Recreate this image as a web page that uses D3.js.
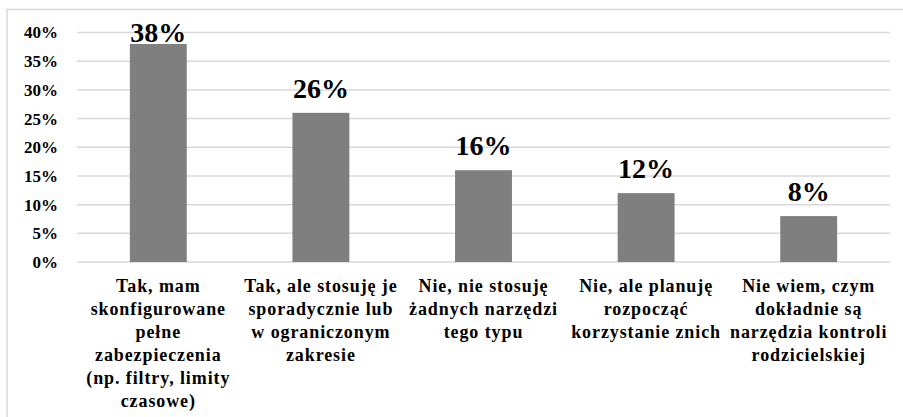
<!DOCTYPE html>
<html>
<head>
<meta charset='utf-8'>
<style>
body { margin: 0; background: #fff; }
</style>
</head>
<body>
<svg width="903" height="417"></svg>
<script src="https://d3js.org/d3.v7.min.js"></script>
<script>
// data
var categories = [
  ["Tak, mam", "skonfigurowane", "pełne", "zabezpieczenia", "(np. filtry, limity", "czasowe)"],
  ["Tak, ale stosuję je", "sporadycznie lub", "w ograniczonym", "zakresie"],
  ["Nie, nie stosuję", "żadnych narzędzi", "tego typu"],
  ["Nie, ale planuję", "rozpocząć", "korzystanie znich"],
  ["Nie wiem, czym", "dokładnie są", "narzędzia kontroli", "rodzicielskiej"]
];
var values = [38, 26, 16, 12, 8];
var yTicks = [0, 5, 10, 15, 20, 25, 30, 35, 40];

var fontFam = "'Times New Roman', Times, 'Liberation Serif', Tinos, 'Noto Serif', 'DejaVu Serif', FreeSerif, serif";

var svg = d3.select('svg')
    .style('font-family', fontFam)
    .style('font-weight', 'bold'),
    margin = {left: 77, right: 13, top: 32.5, bottom: 155},
    width = 903, height = 417;

// outer frame (only top and left visible)
svg.append('rect')
  .attr('x', 7).attr('y', 9.5)
  .attr('width', 920).attr('height', 440)
  .attr('fill', 'none')
  .attr('stroke', '#d9d9d9')
  .attr('stroke-width', 1.5);

var x = d3.scaleBand()
    .domain(d3.range(values.length))
    .range([margin.left, width - margin.right])
    .paddingInner(0.65)
    .paddingOuter(0.325);

var y = d3.scaleLinear()
    .domain([0, 40])
    .range([height - margin.bottom, margin.top]);

// gridlines
svg.append('g')
  .selectAll('line')
  .data(yTicks)
  .enter().append('line')
    .attr('x1', margin.left).attr('x2', width - margin.right)
    .attr('y1', d => y(d)).attr('y2', d => y(d))
    .attr('stroke', '#d9d9d9')
    .attr('stroke-width', 1.5);

// y axis labels
svg.append('g')
  .selectAll('text')
  .data(yTicks)
  .enter().append('text')
    .attr('x', 58)
    .attr('y', d => y(d))
    .attr('dy', '0.35em')
    .attr('text-anchor', 'end')
    .style('font-size', '17px')
    .text(d => d + '%');

// bars
svg.append('g')
  .selectAll('rect')
  .data(values)
  .enter().append('rect')
    .attr('x', (d, i) => x(i))
    .attr('y', d => y(d))
    .attr('width', x.bandwidth())
    .attr('height', d => y(0) - y(d))
    .attr('fill', '#7f7f7f');

// value labels
svg.append('g')
  .selectAll('text')
  .data(values)
  .enter().append('text')
    .attr('x', (d, i) => x(i) + x.bandwidth() / 2)
    .attr('y', d => Math.max(y(d) - 15, 41.5))
    .attr('text-anchor', 'middle')
    .style('font-size', '28px')
    .text(d => d + '%');

// category labels
var cat = svg.append('g')
  .selectAll('text')
  .data(categories)
  .enter().append('text')
    .attr('text-anchor', 'middle')
    .style('font-size', '18px')
    .style('letter-spacing', '0.9px');

cat.selectAll('tspan')
  .data((d, i) => d.map(t => ({t: t, i: i})))
  .enter().append('tspan')
    .attr('x', d => x(d.i) + x.bandwidth() / 2)
    .attr('y', (d, j) => 292 + j * 23)
    .text(d => d.t);
</script>
</body>
</html>
